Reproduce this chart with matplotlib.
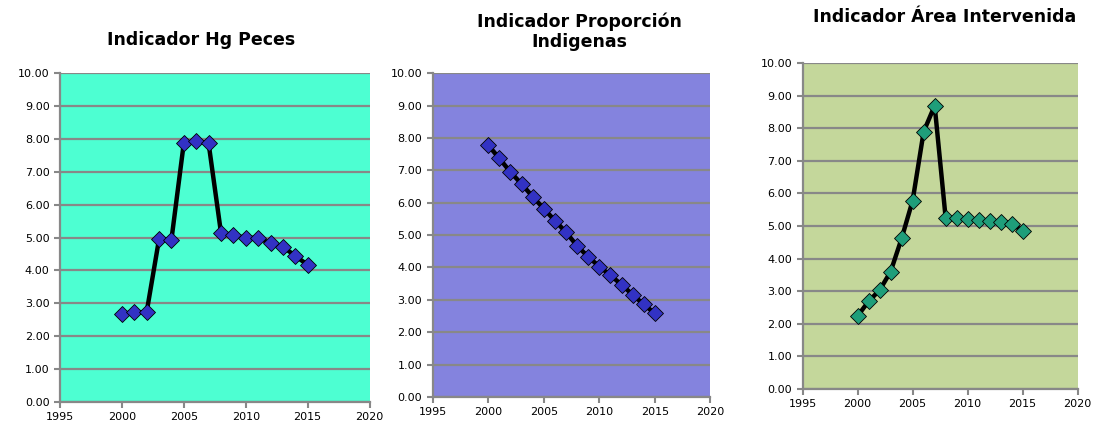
import matplotlib.pyplot as plt
from matplotlib.ticker import FormatStrFormatter

# años
years = list(range(2000, 2016))

# valores
hg_peces = [2.68, 2.73, 2.73, 4.95, 4.93, 7.87, 7.92, 7.87,
            5.15, 5.07, 4.99, 4.99, 4.82, 4.72, 4.44, 4.17]
prop_indigenas = [7.78, 7.37, 6.95, 6.58, 6.19, 5.82, 5.45, 5.09,
                  4.67, 4.33, 4.03, 3.76, 3.47, 3.16, 2.86, 2.58]
area_intervenida = [2.24, 2.69, 3.03, 3.60, 4.62, 5.78, 7.89, 8.69,
                    5.24, 5.24, 5.20, 5.18, 5.16, 5.13, 5.06, 4.85]

titles = ["Indicador Hg Peces", "Indicador Proporción\nIndigenas", "Indicador Área Intervenida"]
x_ticks = [1995, 2000, 2005, 2010, 2015, 2020]
y_ticks = list(range(0, 11))

fig = plt.figure(figsize=(10.98, 4.37), dpi=100)

panels = [
    # rect, fondo, color marcador, serie, titulo (x, y)
    ([0.0546, 0.080, 0.282, 0.753], "#4DFFD2", "#3232C4", hg_peces, (0.183, 0.908)),
    ([0.394, 0.0915, 0.253, 0.741], "#8483DE", "#3232C4", prop_indigenas, (0.528, 0.927)),
    ([0.731, 0.110, 0.2505, 0.746], "#C4D79B", "#1F9E7A", area_intervenida, (0.860, 0.961)),
]

for i, (rect, bg, mc, data, tpos) in enumerate(panels):
    ax = fig.add_axes(rect)
    ax.set_facecolor(bg)
    ax.plot(years, data, color="black", lw=3.2, marker="D", markersize=8,
            markerfacecolor=mc, markeredgecolor="black", markeredgewidth=0.6, zorder=3)
    ax.set_xlim(1995, 2020)
    ax.set_ylim(0, 10)
    ax.set_xticks(x_ticks)
    ax.set_yticks(y_ticks)
    ax.yaxis.set_major_formatter(FormatStrFormatter("%.2f"))
    ax.grid(axis="y", color="#888888", lw=1.6)
    ax.set_axisbelow(True)
    for s in ["top", "right"]:
        ax.spines[s].set_visible(False)
    for s in ["left", "bottom"]:
        ax.spines[s].set_color("#888888")
        ax.spines[s].set_linewidth(1.6)
    ax.tick_params(colors="#888888", labelcolor="black", labelsize=8, length=4, width=1.5)
    fig.text(tpos[0], tpos[1], titles[i], ha="center", va="center",
             fontsize=12.5, fontweight="bold", linespacing=1.1)

plt.savefig("out.png")
